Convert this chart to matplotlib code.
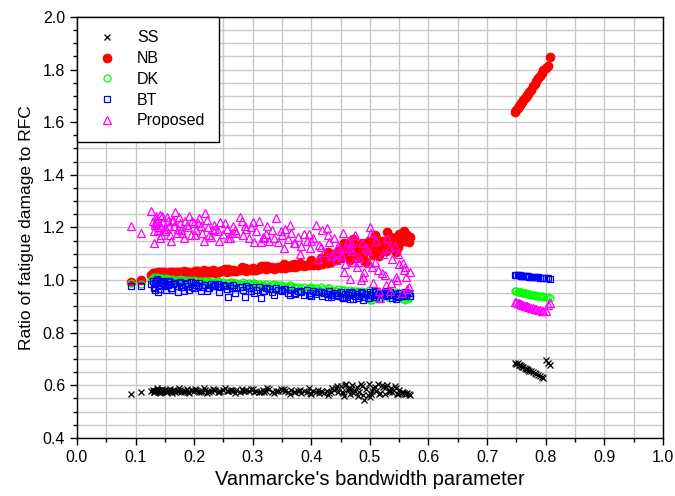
import matplotlib
matplotlib.use("Agg")
from matplotlib import pyplot as plt
from matplotlib.ticker import MultipleLocator

matplotlib.rcParams["font.family"] = "Liberation Sans"

# Vanmarcke's parameter of the wide-band cases (same cases for every method)
x_wide = [
    0.092, 0.109, 0.127, 0.130, 0.132, 0.134, 0.136, 0.138, 0.141, 0.144,
    0.147, 0.150, 0.153, 0.157, 0.160, 0.164, 0.168, 0.172, 0.176, 0.180,
    0.185, 0.190, 0.194, 0.199, 0.204, 0.209, 0.214, 0.219, 0.224, 0.229,
    0.234, 0.240, 0.245, 0.250, 0.256, 0.261, 0.267, 0.272, 0.278, 0.283,
    0.289, 0.294, 0.300, 0.306, 0.311, 0.317, 0.322, 0.328, 0.333, 0.339,
    0.344, 0.350, 0.355, 0.361, 0.366, 0.372, 0.377, 0.383, 0.388, 0.393,
    0.398, 0.403, 0.408, 0.413, 0.418, 0.422, 0.426, 0.430, 0.434, 0.438,
    0.442, 0.446, 0.450, 0.454, 0.458, 0.462, 0.466, 0.470, 0.474, 0.478,
    0.482, 0.486, 0.490, 0.494, 0.498, 0.502, 0.506, 0.510, 0.514, 0.518,
    0.522, 0.526, 0.530, 0.534, 0.538, 0.542, 0.546, 0.550, 0.554, 0.558,
    0.562, 0.566, 0.569, 0.452, 0.468, 0.488, 0.504, 0.528, 0.548, 0.564,
    0.135, 0.139, 0.143, 0.155, 0.166, 0.178, 0.206, 0.236, 0.264, 0.297,
    0.320, 0.348, 0.370, 0.396, 0.416, 0.436, 0.460, 0.480, 0.500, 0.520,
    0.536, 0.556, 0.133, 0.149, 0.170, 0.196, 0.226, 0.258, 0.286, 0.314,
    0.131, 0.137, 0.142, 0.146, 0.152, 0.158, 0.162, 0.174, 0.182, 0.188,
    0.192, 0.201, 0.212, 0.217, 0.222, 0.232, 0.243, 0.253, 0.270, 0.281,
    0.303, 0.325, 0.336, 0.353, 0.364, 0.380, 0.400, 0.411, 0.428, 0.444,
    0.456, 0.464, 0.472, 0.484, 0.496, 0.508, 0.516, 0.532, 0.544, 0.560,
]

ss_wide = [
    0.567, 0.573, 0.578, 0.582, 0.576, 0.580, 0.584, 0.575, 0.579, 0.581,
    0.577, 0.583, 0.576, 0.580, 0.578, 0.582, 0.575, 0.579, 0.584, 0.577,
    0.580, 0.576, 0.582, 0.578, 0.581, 0.575, 0.579, 0.583, 0.577, 0.580,
    0.582, 0.576, 0.579, 0.584, 0.577, 0.581, 0.578, 0.582, 0.576, 0.580,
    0.583, 0.577, 0.585, 0.579, 0.576, 0.582, 0.578, 0.586, 0.575, 0.580,
    0.577, 0.583, 0.579, 0.574, 0.581, 0.576, 0.578, 0.572, 0.580, 0.575,
    0.571, 0.578, 0.574, 0.569, 0.576, 0.572, 0.579, 0.570, 0.575, 0.582,
    0.588, 0.576, 0.596, 0.570, 0.600, 0.584, 0.566, 0.602, 0.579, 0.592,
    0.573, 0.598, 0.545, 0.587, 0.604, 0.566, 0.590, 0.578, 0.606, 0.571,
    0.595, 0.568, 0.601, 0.580, 0.575, 0.598, 0.566, 0.584, 0.573, 0.570,
    0.568, 0.566, 0.564, 0.575, 0.585, 0.562, 0.579, 0.592, 0.567, 0.572,
    0.577, 0.582, 0.574, 0.579, 0.584, 0.576, 0.578, 0.581, 0.583, 0.587,
    0.576, 0.586, 0.573, 0.589, 0.577, 0.591, 0.604, 0.560, 0.557, 0.600,
    0.588, 0.575, 0.579, 0.581, 0.577, 0.583, 0.575, 0.580, 0.578, 0.574,
    0.574, 0.588, 0.571, 0.586, 0.573, 0.587, 0.572, 0.588, 0.574, 0.586,
    0.572, 0.587, 0.573, 0.588, 0.571, 0.586, 0.574, 0.589, 0.572, 0.587,
    0.573, 0.588, 0.570, 0.585, 0.568, 0.584, 0.567, 0.582, 0.564, 0.596,
    0.560, 0.590, 0.572, 0.606, 0.563, 0.594, 0.568, 0.576, 0.590, 0.566,
]

nb_wide = [
    0.994, 0.999, 1.018, 1.025, 1.021, 1.028, 1.016, 1.023, 1.020, 1.026,
    1.019, 1.024, 1.027, 1.021, 1.025, 1.029, 1.022, 1.026, 1.030, 1.023,
    1.027, 1.031, 1.025, 1.029, 1.033, 1.026, 1.030, 1.034, 1.028, 1.032,
    1.035, 1.029, 1.033, 1.037, 1.031, 1.036, 1.040, 1.034, 1.038, 1.042,
    1.036, 1.041, 1.045, 1.039, 1.043, 1.047, 1.041, 1.046, 1.050, 1.044,
    1.049, 1.053, 1.046, 1.051, 1.056, 1.050, 1.055, 1.060, 1.053, 1.058,
    1.063, 1.057, 1.062, 1.068, 1.060, 1.072, 1.066, 1.080, 1.070, 1.095,
    1.075, 1.110, 1.085, 1.130, 1.095, 1.120, 1.078, 1.145, 1.100, 1.125,
    1.088, 1.140, 1.105, 1.070, 1.150, 1.118, 1.095, 1.160, 1.128, 1.108,
    1.150, 1.135, 1.182, 1.142, 1.120, 1.160, 1.138, 1.175, 1.150, 1.185,
    1.165, 1.145, 1.162, 1.100, 1.135, 1.082, 1.130, 1.110, 1.125, 1.172,
    1.017, 1.030, 1.024, 1.020, 1.028, 1.022, 1.035, 1.028, 1.034, 1.038,
    1.052, 1.044, 1.062, 1.058, 1.085, 1.100, 1.090, 1.120, 1.140, 1.125,
    1.165, 1.155, 1.022, 1.029, 1.032, 1.024, 1.036, 1.042, 1.046, 1.055,
    1.028, 1.019, 1.031, 1.024, 1.018, 1.031, 1.027, 1.020, 1.033, 1.028,
    1.022, 1.036, 1.027, 1.039, 1.025, 1.040, 1.030, 1.043, 1.035, 1.048,
    1.037, 1.055, 1.042, 1.060, 1.048, 1.066, 1.075, 1.058, 1.105, 1.082,
    1.140, 1.092, 1.155, 1.100, 1.130, 1.170, 1.090, 1.165, 1.105, 1.150,
]

dk_wide = [
    0.988, 0.986, 1.002, 1.008, 0.998, 1.005, 1.010, 0.996, 1.003, 1.007,
    0.999, 1.004, 0.995, 1.002, 0.997, 1.001, 0.994, 0.999, 1.003, 0.993,
    0.998, 0.992, 0.997, 1.001, 0.990, 0.996, 0.993, 0.998, 0.989, 0.994,
    0.991, 0.996, 0.987, 0.993, 0.989, 0.994, 0.985, 0.990, 0.986, 0.992,
    0.983, 0.988, 0.984, 0.980, 0.986, 0.981, 0.985, 0.978, 0.982, 0.976,
    0.980, 0.974, 0.978, 0.972, 0.977, 0.970, 0.975, 0.968, 0.973, 0.966,
    0.971, 0.965, 0.969, 0.962, 0.967, 0.960, 0.964, 0.970, 0.958, 0.963,
    0.957, 0.966, 0.952, 0.961, 0.956, 0.948, 0.962, 0.951, 0.957, 0.945,
    0.955, 0.960, 0.947, 0.953, 0.962, 0.940, 0.950, 0.956, 0.930, 0.948,
    0.944, 0.952, 0.938, 0.946, 0.955, 0.935, 0.942, 0.950, 0.937, 0.944,
    0.940, 0.933, 0.938, 0.963, 0.955, 0.944, 0.926, 0.949, 0.946, 0.929,
    1.006, 1.000, 0.997, 1.003, 0.995, 1.000, 0.992, 0.988, 0.991, 0.984,
    0.979, 0.983, 0.975, 0.969, 0.973, 0.960, 0.954, 0.958, 0.925, 0.943,
    0.951, 0.928, 1.004, 0.996, 1.002, 0.993, 0.995, 0.988, 0.986, 0.979,
    1.010, 0.999, 1.008, 0.996, 1.006, 0.995, 1.004, 0.991, 1.001, 0.990,
    0.999, 0.987, 0.997, 0.985, 0.995, 0.984, 0.992, 0.982, 0.989, 0.980,
    0.988, 0.972, 0.984, 0.966, 0.980, 0.961, 0.973, 0.957, 0.969, 0.950,
    0.962, 0.944, 0.960, 0.938, 0.956, 0.934, 0.952, 0.930, 0.953, 0.926,
]

bt_wide = [
    0.978, 0.977, 0.985, 0.995, 0.975, 0.990, 1.000, 0.955, 0.988, 0.982,
    0.993, 0.976, 0.986, 0.998, 0.971, 0.984, 0.990, 0.955, 0.994, 0.974,
    0.985, 0.978, 0.991, 0.970, 0.983, 0.987, 0.975, 0.981, 0.968, 0.984,
    0.977, 0.986, 0.972, 0.980, 0.966, 0.978, 0.983, 0.970, 0.975, 0.963,
    0.976, 0.968, 0.972, 0.961, 0.974, 0.958, 0.969, 0.966, 0.955, 0.970,
    0.962, 0.957, 0.967, 0.952, 0.963, 0.948, 0.959, 0.954, 0.944, 0.961,
    0.950, 0.958, 0.946, 0.955, 0.940, 0.952, 0.947, 0.957, 0.936, 0.951,
    0.945, 0.939, 0.953, 0.932, 0.948, 0.942, 0.929, 0.950, 0.938, 0.946,
    0.941, 0.952, 0.935, 0.947, 0.930, 0.944, 0.953, 0.937, 0.948, 0.942,
    0.950, 0.939, 0.945, 0.955, 0.933, 0.948, 0.941, 0.952, 0.938, 0.946,
    0.943, 0.949, 0.940, 0.936, 0.955, 0.926, 0.944, 0.958, 0.935, 0.951,
    0.997, 0.983, 0.992, 0.980, 0.988, 0.972, 0.976, 0.981, 0.969, 0.960,
    0.957, 0.964, 0.949, 0.943, 0.953, 0.944, 0.936, 0.933, 0.956, 0.947,
    0.943, 0.940, 0.962, 0.989, 0.977, 0.974, 0.971, 0.935, 0.937, 0.932,
    0.970, 1.003, 0.966, 0.996, 0.963, 0.992, 0.961, 0.987, 0.958, 0.990,
    0.962, 0.988, 0.958, 0.983, 0.957, 0.979, 0.955, 0.976, 0.952, 0.973,
    0.950, 0.968, 0.945, 0.965, 0.942, 0.960, 0.938, 0.955, 0.935, 0.951,
    0.932, 0.956, 0.928, 0.954, 0.931, 0.957, 0.927, 0.945, 0.929, 0.955,
]

prop_wide = [
    1.205, 1.180, 1.262, 1.225, 1.140, 1.210, 1.235, 1.190, 1.248, 1.200,
    1.220, 1.185, 1.240, 1.205, 1.150, 1.230, 1.260, 1.195, 1.215, 1.180,
    1.225, 1.200, 1.170, 1.215, 1.190, 1.235, 1.180, 1.254, 1.200, 1.165,
    1.210, 1.185, 1.220, 1.175, 1.195, 1.160, 1.205, 1.180, 1.241, 1.170,
    1.195, 1.160, 1.220, 1.185, 1.225, 1.165, 1.175, 1.150, 1.190, 1.236,
    1.145, 1.170, 1.195, 1.155, 1.180, 1.140, 1.165, 1.130, 1.175, 1.150,
    1.120, 1.160, 1.209, 1.135, 1.190, 1.105, 1.196, 1.145, 1.090, 1.160,
    1.075, 1.130, 1.100, 1.180, 1.060, 1.150, 1.003, 1.110, 1.170, 1.050,
    1.085, 1.140, 1.030, 1.120, 1.065, 1.180, 0.990, 1.150, 1.040, 0.930,
    1.100, 1.020, 1.160, 0.960, 1.080, 1.130, 1.000, 1.060, 0.950, 1.040,
    1.010, 0.975, 1.030, 1.090, 1.140, 1.010, 1.050, 0.980, 1.100, 0.965,
    1.245, 1.200, 1.170, 1.225, 1.205, 1.190, 1.215, 1.195, 1.180, 1.200,
    1.160, 1.185, 1.140, 1.175, 1.125, 1.095, 1.120, 1.070, 1.200, 1.025,
    0.990, 1.065, 1.215, 1.195, 1.180, 1.225, 1.170, 1.160, 1.205, 1.145,
    1.185, 1.220, 1.160, 1.245, 1.195, 1.170, 1.225, 1.240, 1.160, 1.210,
    1.245, 1.170, 1.205, 1.150, 1.230, 1.190, 1.150, 1.215, 1.190, 1.225,
    1.145, 1.205, 1.160, 1.120, 1.210, 1.100, 1.150, 1.080, 1.170, 1.120,
    1.030, 1.120, 1.070, 1.000, 1.110, 1.070, 0.960, 1.120, 1.010, 1.050,
]

# narrow-band cases
x_narrow = [
    0.748, 0.750, 0.752, 0.754, 0.756, 0.758, 0.760, 0.762, 0.764, 0.766,
    0.768, 0.770, 0.772, 0.775, 0.778, 0.781, 0.784, 0.787, 0.790, 0.793,
    0.796, 0.800, 0.804, 0.808,
]
ss_narrow = [
    0.685, 0.682, 0.684, 0.678, 0.676, 0.674, 0.670, 0.668, 0.667, 0.663,
    0.661, 0.660, 0.656, 0.653, 0.650, 0.646, 0.643, 0.640, 0.637, 0.633,
    0.629, 0.698, 0.684, 0.676,
]
nb_narrow = [
    1.640, 1.648, 1.652, 1.660, 1.664, 1.672, 1.676, 1.684, 1.690, 1.695,
    1.703, 1.708, 1.716, 1.724, 1.736, 1.745, 1.756, 1.768, 1.776, 1.786,
    1.797, 1.805, 1.812, 1.848,
]
dk_narrow = [
    0.958, 0.957, 0.955, 0.956, 0.954, 0.953, 0.952, 0.951, 0.950, 0.950,
    0.948, 0.948, 0.946, 0.945, 0.944, 0.943, 0.941, 0.940, 0.939, 0.938,
    0.936, 0.935, 0.934, 0.933,
]
bt_narrow = [
    1.020, 1.019, 1.020, 1.018, 1.018, 1.017, 1.017, 1.016, 1.016, 1.015,
    1.015, 1.014, 1.013, 1.013, 1.012, 1.011, 1.010, 1.010, 1.009, 1.008,
    1.008, 1.007, 1.006, 1.005,
]
prop_narrow = [
    0.918, 0.915, 0.913, 0.912, 0.910, 0.908, 0.906, 0.905, 0.903, 0.901,
    0.900, 0.898, 0.897, 0.895, 0.893, 0.891, 0.889, 0.887, 0.886, 0.884,
    0.881, 0.884, 0.905, 0.913,
]

methods = ["SS", "NB", "DK", "BT", "Proposed"]
wide = [ss_wide, nb_wide, dk_wide, bt_wide, prop_wide]
narrow = [ss_narrow, nb_narrow, dk_narrow, bt_narrow, prop_narrow]

styles = [
    dict(marker="x", color="black", ms=4.5, mew=0.9),
    dict(marker="o", color="red", ms=6.2, mew=0.8),
    dict(marker="o", color="#00ff00", mfc="none", ms=5, mew=0.9),
    dict(marker="s", color="blue", mfc="none", ms=4.4, mew=0.9),
    dict(marker="^", color="magenta", mfc="none", ms=6, mew=0.9),
]

fig = plt.figure(figsize=(6.75, 4.96), dpi=100)
ax = fig.add_axes([0.114, 0.117, 0.868, 0.849])

for name, yw, yn, st in zip(methods, wide, narrow, styles):
    ax.plot(x_wide + x_narrow, yw + yn, ls="none", label=name, **st)

ax.set_xlim(0, 1)
ax.set_ylim(0.4, 2.0)
ax.xaxis.set_major_locator(MultipleLocator(0.1))
ax.xaxis.set_minor_locator(MultipleLocator(0.05))
ax.yaxis.set_major_locator(MultipleLocator(0.2))
ax.yaxis.set_minor_locator(MultipleLocator(0.05))
ax.xaxis.set_major_formatter("{x:.1f}")
ax.yaxis.set_major_formatter("{x:.1f}")
ax.grid(which="both", color="#c8c8c8", lw=1)
ax.set_axisbelow(True)
ax.tick_params(which="major", direction="out", length=5, width=1, labelsize=11.5)
ax.tick_params(which="minor", direction="out", length=3, width=1)
for sp in ax.spines.values():
    sp.set_linewidth(1)
    sp.set_color("black")

ax.set_xlabel("Vanmarcke's bandwidth parameter", fontsize=14.5, labelpad=4)
ax.set_ylabel("Ratio of fatigue damage to RFC", fontsize=12.5, labelpad=6)

leg = ax.legend(loc="upper left", borderaxespad=0, fontsize=11.5, fancybox=False,
                framealpha=1, edgecolor="black", handlelength=2.1,
                handletextpad=0.8, borderpad=0.85, labelspacing=0.36)
leg.get_frame().set_linewidth(1)

fig.savefig("out.png", dpi=100)
